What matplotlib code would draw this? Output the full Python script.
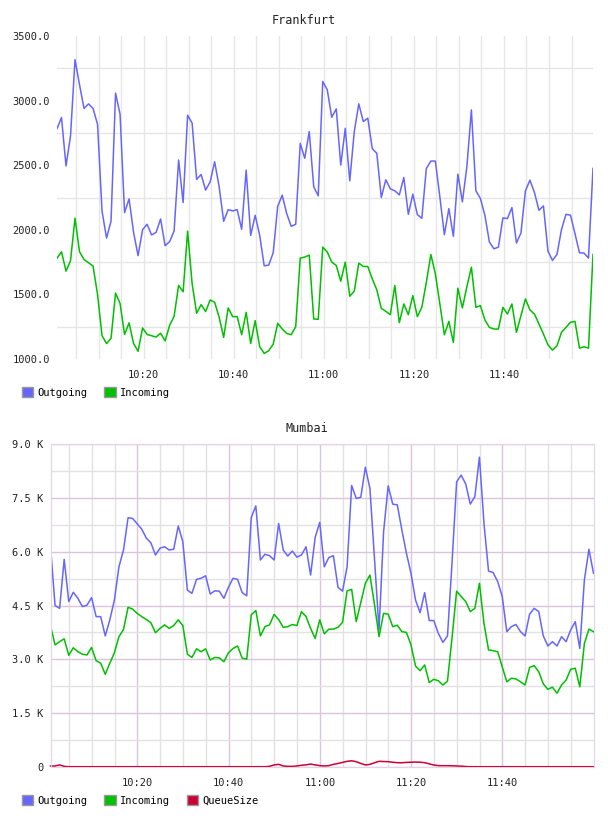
import numpy as np
import pandas as pd
import matplotlib
matplotlib.use('Agg')
import matplotlib.pyplot as plt
import matplotlib.dates as mdates
from matplotlib.patches import Patch
from matplotlib.ticker import FixedLocator, FuncFormatter

# Dados (uma amostra por minuto)
fra_outgoing = [2783, 2869, 2494, 2726, 3317, 3123, 2939, 2975, 2939, 2817,
                2144, 1936, 2068, 3058, 2895, 2133, 2239, 1980, 1800, 2001,
                2043, 1960, 1980, 2084, 1877, 1908, 1991, 2540, 2211, 2887,
                2825, 2390, 2428, 2307, 2371, 2527, 2333, 2066, 2156, 2146,
                2156, 2004, 2462, 1957, 2112, 1957, 1721, 1727, 1822, 2182,
                2268, 2125, 2027, 2043, 2669, 2553, 2760, 2333, 2263, 3148,
                3084, 2871, 2936, 2501, 2786, 2379, 2760, 2975, 2838, 2864,
                2628, 2592, 2250, 2387, 2317, 2302, 2270, 2405, 2120, 2276,
                2118, 2089, 2475, 2532, 2532, 2255, 1962, 2164, 1949, 2431,
                2216, 2488, 2928, 2302, 2242, 2112, 1905, 1853, 1866, 2092,
                2087, 2172, 1898, 1975, 2302, 2384, 2289, 2151, 2185, 1835,
                1763, 1809, 2001, 2120, 2113, 1970, 1822, 1820, 1781, 2475]
fra_incoming = [1780, 1830, 1680, 1760, 2090, 1830, 1770, 1745, 1720, 1500,
                1180, 1120, 1160, 1510, 1430, 1190, 1280, 1120, 1060, 1240,
                1190, 1180, 1170, 1200, 1140, 1260, 1330, 1570, 1520, 1990,
                1582, 1354, 1421, 1367, 1457, 1439, 1323, 1167, 1395, 1328,
                1328, 1188, 1361, 1120, 1297, 1095, 1043, 1064, 1115, 1276,
                1232, 1198, 1188, 1250, 1781, 1789, 1804, 1310, 1307, 1866,
                1828, 1750, 1724, 1602, 1750, 1486, 1525, 1742, 1716, 1716,
                1620, 1535, 1392, 1369, 1343, 1569, 1281, 1426, 1343, 1491,
                1328, 1400, 1594, 1809, 1659, 1426, 1188, 1291, 1128, 1548,
                1395, 1560, 1710, 1400, 1413, 1302, 1245, 1232, 1232, 1400,
                1348, 1426, 1206, 1335, 1465, 1380, 1348, 1271, 1193, 1110,
                1069, 1102, 1206, 1245, 1284, 1291, 1084, 1095, 1084, 1809]

mum_outgoing = [6160, 4500, 4420, 5790, 4610, 4870, 4700, 4470, 4510, 4720,
                4190, 4190, 3650, 4100, 4650, 5580, 6050, 6950, 6930, 6780,
                6630, 6380, 6250, 5910, 6100, 6140, 6050, 6070, 6720, 6280,
                4930, 4840, 5230, 5260, 5330, 4820, 4910, 4900, 4700, 5010,
                5260, 5230, 4860, 4770, 6960, 7280, 5770, 5930, 5890, 5770,
                6790, 6050, 5880, 6020, 5850, 5910, 6140, 5350, 6400, 6820,
                5580, 5840, 5890, 5010, 4900, 5580, 7850, 7490, 7520, 8360,
                7770, 5820, 3820, 6560, 7840, 7330, 7310, 6610, 5960, 5400,
                4650, 4300, 4860, 4080, 4080, 3720, 3470, 3650, 5700, 7950,
                8140, 7890, 7330, 7540, 8640, 6790, 5460, 5420, 5170, 4750,
                3770, 3910, 3970, 3770, 3650, 4260, 4420, 4330, 3650, 3370,
                3490, 3370, 3630, 3490, 3820, 4050, 3300, 5210, 6070, 5400]
mum_incoming = [3940, 3400, 3490, 3570, 3110, 3320, 3210, 3140, 3120, 3330,
                2960, 2890, 2580, 2890, 3180, 3630, 3830, 4450, 4400, 4280,
                4190, 4110, 4020, 3740, 3860, 3960, 3860, 3940, 4100, 3940,
                3140, 3050, 3290, 3210, 3290, 2980, 3050, 3040, 2930, 3180,
                3300, 3370, 3030, 3000, 4240, 4360, 3650, 3910, 3960, 4250,
                4110, 3890, 3910, 3970, 3940, 4330, 4190, 3860, 3580, 4100,
                3710, 3840, 3840, 3890, 4030, 4910, 4950, 4050, 4580, 5120,
                5350, 4530, 3630, 4280, 4260, 3910, 3950, 3770, 3750, 3400,
                2810, 2680, 2840, 2350, 2440, 2400, 2280, 2390, 3600, 4900,
                4750, 4610, 4330, 4420, 5120, 4000, 3260, 3240, 3210, 2790,
                2370, 2470, 2450, 2370, 2280, 2770, 2820, 2650, 2310, 2160,
                2220, 2050, 2280, 2420, 2720, 2750, 2230, 3440, 3840, 3770]
mum_queue = [20, 20, 50, 10, 0, 0, 0, 0, 0, 0,
             0, 0, 0, 0, 0, 0, 0, 0, 0, 0,
             0, 0, 0, 0, 0, 0, 0, 0, 0, 0,
             0, 0, 0, 0, 0, 0, 0, 0, 0, 0,
             0, 0, 0, 0, 0, 0, 0, 0, 10, 50,
             65, 20, 10, 10, 20, 40, 50, 75, 50, 30,
             20, 30, 65, 90, 120, 150, 165, 140, 90, 50,
             65, 110, 150, 145, 140, 125, 112, 110, 120, 125,
             130, 125, 112, 80, 47, 30, 28, 28, 25, 20,
             15, 5, 0, 0, 0, 0, 0, 0, 0, 0,
             0, 0, 0, 0, 0, 0, 0, 0, 0, 0,
             0, 0, 0, 0, 0, 0, 0, 0, 0, 0]

fra_ticks = [1000, 1500, 2000, 2500, 3000, 3500]
mum_ticks = [0, 1500, 3000, 4500, 6000, 7500, 9000]

cor_out = '#6666ff'
cor_in = '#00c000'
cor_queue = '#cc0033'
fonte = 'DejaVu Sans Mono'

t_fra = pd.date_range('2024-01-01 10:00:46', periods=len(fra_outgoing), freq='1min')
t_mum = pd.date_range('2024-01-01 10:00:58', periods=len(mum_outgoing), freq='1min')

fig = plt.figure(figsize=(6.08, 8.16), dpi=100)


def eixo_tempo(ax, cor_maior, cor_menor):
    ax.xaxis.set_major_locator(mdates.MinuteLocator(byminute=[0, 20, 40]))
    ax.xaxis.set_minor_locator(mdates.MinuteLocator(byminute=[5, 10, 15, 25, 30, 35, 45, 50, 55]))
    ax.xaxis.set_major_formatter(mdates.DateFormatter('%H:%M'))
    ax.grid(True, axis='x', which='major', color=cor_maior, lw=1)
    ax.grid(True, axis='x', which='minor', color=cor_menor, lw=1)
    ax.tick_params(which='both', length=0)
    ax.tick_params(axis='x', pad=8, labelsize=7.5, labelcolor='#222222')
    ax.tick_params(axis='y', pad=5, labelsize=7.5, labelcolor='#222222')
    for lab in ax.get_xticklabels() + ax.get_yticklabels():
        lab.set_fontfamily(fonte)
    ax.set_axisbelow(True)


def legenda(y, itens):
    fig.legend(handles=[Patch(facecolor=c, edgecolor='#999999', label=n) for n, c in itens],
               loc='upper left', bbox_to_anchor=(22 / 608, 1 - y / 816), ncol=len(itens),
               frameon=False, borderpad=0, borderaxespad=0, handlelength=1.1,
               handleheight=1.1, handletextpad=0.4, columnspacing=1.6,
               prop={'family': fonte, 'size': 7.5})


# Frankfurt
ax1 = fig.add_axes([57 / 608, 1 - 359 / 816, 536 / 608, 323 / 816])
ax1.plot(t_fra, fra_outgoing, color=cor_out, lw=1.1)
ax1.plot(t_fra, fra_incoming, color=cor_in, lw=1.1)
ax1.set_xlim(t_fra[0], t_fra[-1])
ax1.set_ylim(1000, 3500)
ax1.yaxis.set_major_locator(FixedLocator(fra_ticks))
ax1.yaxis.set_minor_locator(FixedLocator([v + 250 for v in fra_ticks[:-1]]))
ax1.yaxis.set_major_formatter(FuncFormatter(lambda v, p: '%.1f' % v))
ax1.grid(True, axis='y', which='minor', color='#e6e6e6', lw=1)
eixo_tempo(ax1, '#e6e6e6', '#e6e6e6')
for s in ax1.spines.values():
    s.set_visible(False)
fig.text(0.5, 1 - 20 / 816, 'Frankfurt', ha='center', va='center',
         fontsize=8.5, family=fonte, color='#222222')
legenda(387, [('Outgoing', cor_out), ('Incoming', cor_in)])

# Mumbai
ax2 = fig.add_axes([50.5 / 608, 1 - 766.7 / 816, 543 / 608, 322.4 / 816])
ax2.plot(t_mum, mum_outgoing, color=cor_out, lw=1.1)
ax2.plot(t_mum, mum_incoming, color=cor_in, lw=1.1)
ax2.plot(t_mum, mum_queue, color=cor_queue, lw=1.1, clip_on=False)
ax2.set_xlim(t_mum[0], t_mum[-1])
ax2.set_ylim(0, 9000)
ax2.yaxis.set_major_locator(FixedLocator(mum_ticks))
ax2.yaxis.set_minor_locator(FixedLocator([v + 750 for v in mum_ticks[:-1]]))
ax2.yaxis.set_major_formatter(FuncFormatter(lambda v, p: '0' if v == 0 else '%.1f K' % (v / 1000)))
ax2.grid(True, axis='y', which='major', color='#dcc4dc', lw=1)
ax2.grid(True, axis='y', which='minor', color='#e2e2e2', lw=1)
eixo_tempo(ax2, '#dcc4dc', '#e2e2e2')
for s in ax2.spines.values():
    s.set_color('#e6d2e6')
fig.text(0.505, 1 - 429 / 816, 'Mumbai', ha='center', va='center',
         fontsize=8.5, family=fonte, color='#222222')
legenda(795, [('Outgoing', cor_out), ('Incoming', cor_in), ('QueueSize', cor_queue)])

fig.savefig('out.png', dpi=100, facecolor='white')
